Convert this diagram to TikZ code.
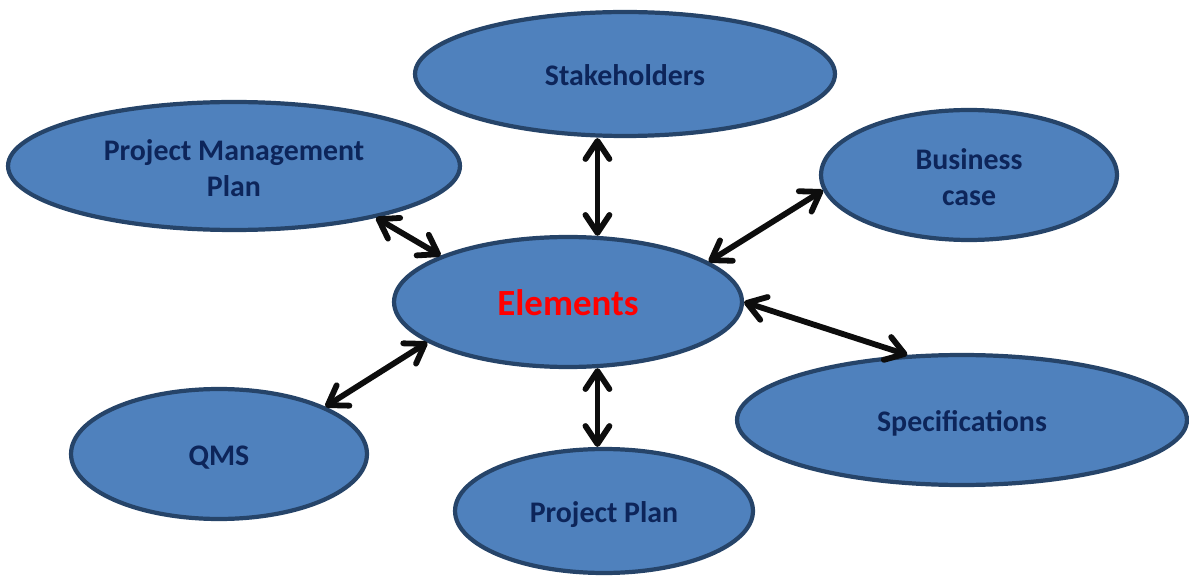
\documentclass[tikz,border=0pt]{standalone}
\usepackage{fontspec}
\setmainfont{Carlito}
\usetikzlibrary{positioning,arrows.meta,shapes.geometric}
\definecolor{ovfill}{HTML}{4F81BD}
\definecolor{ovline}{HTML}{264469}
\definecolor{ovtext}{HTML}{0D255A}
\tikzset{
  oval/.style={ellipse,draw=ovline,fill=ovfill,line width=2.4pt,inner sep=0pt,
    font=\bfseries\fontsize{17}{20.5}\selectfont,text=ovtext,align=center},
  lone/.style={oval,text height=16pt,text depth=3pt},    % one line of text
  pair/.style={oval,text height=38pt,text depth=3pt},    % two lines of text
  hub/.style={oval,font=\bfseries\fontsize{21}{24}\selectfont,text=red,
    text height=15pt,text depth=0pt},                    % centre ellipse
  barb/.tip={Straight Barb[round,length=3.6mm,width=4.8mm]},
  link/.style={barb-barb,line width=3.3pt,black!95},
}

\begin{document}
\begin{tikzpicture}[x=0.02cm,y=-0.02cm]
  \useasboundingbox (0,0) rectangle (1189,577);
  \node[hub,minimum width=6.96cm,minimum height=2.6cm] (elem) at (568,302) {Elements};
  \node[lone,minimum width=8.4cm,minimum height=2.48cm] (stake) at (625,74) {Stakeholders};
  \node[pair,minimum width=9.04cm,minimum height=2.56cm] (pmp) at (234,166) {Project Management\\Plan};
  \node[pair,minimum width=5.92cm,minimum height=2.6cm] (bcase) at (969,175) {Business\\case};
  \node[lone,minimum width=9cm,minimum height=2.6cm] (spec) at (962,420) {Specifications};
  \node[lone,minimum width=5.92cm,minimum height=2.6cm] (qms) at (219,454) {QMS};
  \node[lone,minimum width=5.96cm,minimum height=2.48cm] (pplan) at (604,511) {Project Plan};
  % two-way links
  \draw[link] (elem.66) -- (elem.66 |- stake.south);
  \draw[link] (elem.-66) -- (elem.-66 |- pplan.north);
  \draw[link] (pmp.-20) -- (elem.160);
  \draw[link] (bcase.-174) -- (elem.16);
  \draw[link] (elem.0) -- (spec.130);
  \draw[link] (qms.24) -- (elem.-164);
\end{tikzpicture}
\end{document}
